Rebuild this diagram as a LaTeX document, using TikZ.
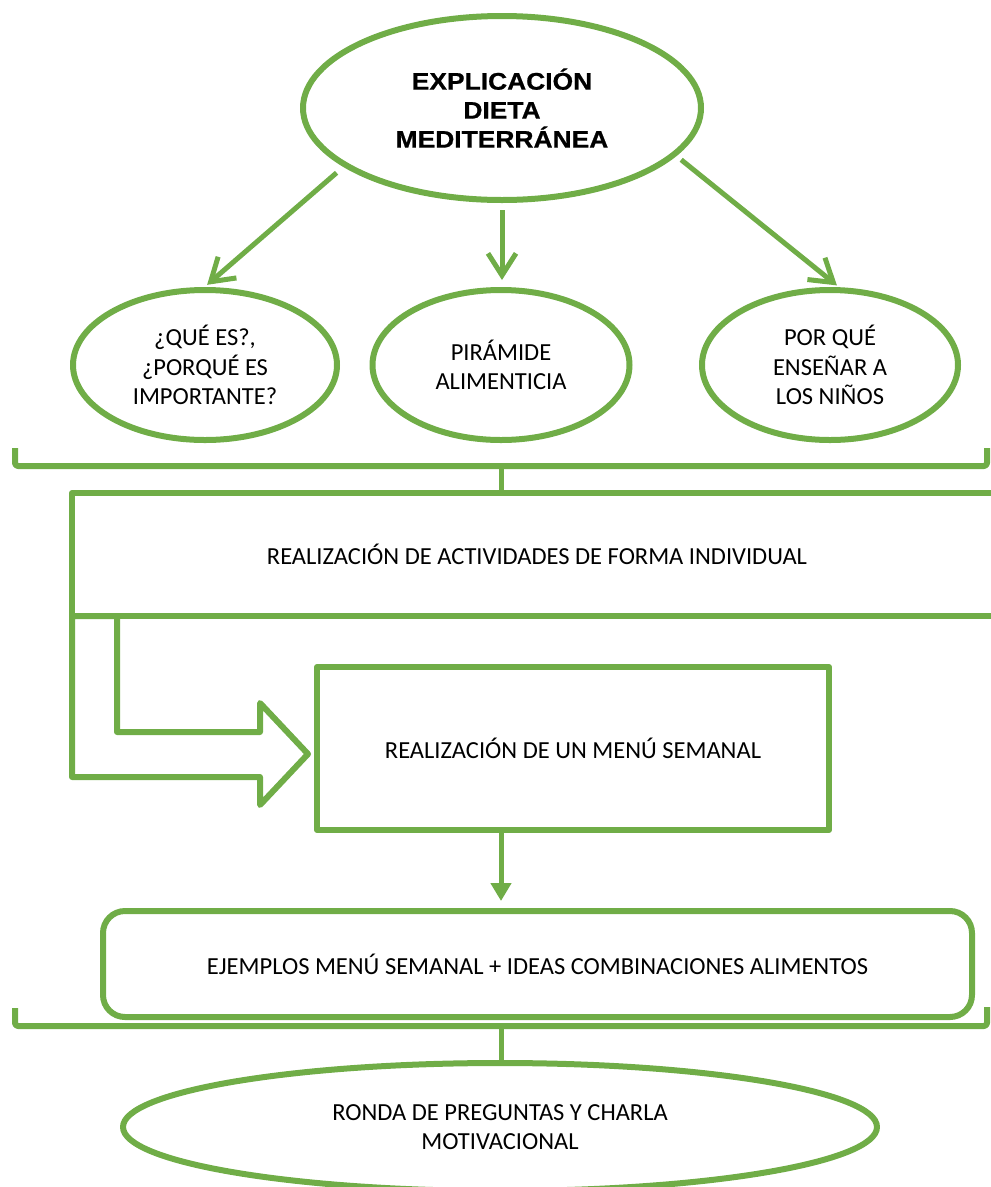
\documentclass[tikz,border=0pt]{standalone}
\usepackage{fontspec}
\setmainfont{Carlito}
\newfontfamily\titlefont[FakeStretch=1.1, BoldFeatures={FakeBold=0.8}]{Liberation Sans}
\usetikzlibrary{arrows.meta,shapes.geometric}
\definecolor{leaf}{HTML}{70AD47}

\begin{document}
\begin{tikzpicture}[x=1pt, y=-1pt, line join=round,
    oval/.style={ellipse, draw=leaf, line width=6pt, inner sep=0pt, outer sep=0pt,
                 align=center, font=\fontsize{24.5}{29.5}\selectfont},
    box/.style={rectangle, draw=leaf, line width=6pt, inner sep=0pt, outer sep=0pt,
                align=center, font=\fontsize{24.5}{29.5}\selectfont},
    link/.style={draw=leaf, line width=5pt},
    arr/.style={link, -{Straight Barb[length=22pt, width=28pt]}},
    down arr/.style={link, -{Triangle[length=18pt, width=20pt]}, color=leaf},
    brace/.style={draw=leaf, line width=6pt, rounded corners=3pt}]

    \useasboundingbox (0,0) rectangle (991,1187);
    \clip (0,0) rectangle (991,1187);

    \node[oval, minimum width=398pt, minimum height=184pt,
          font=\titlefont\bfseries\fontsize{24}{29}\selectfont] (diet) at (502,108)
          {EXPLICACIÓN\\DIETA\\MEDITERRÁNEA};
    \node[oval, minimum width=264pt, minimum height=150pt] (what)    at (205,365) {¿QUÉ ES?,\\¿PORQUÉ ES\\IMPORTANTE?};
    \node[oval, minimum width=257pt, minimum height=150pt] (pyramid) at (501,365) {PIRÁMIDE\\ALIMENTICIA};
    \node[oval, minimum width=256pt, minimum height=150pt] (why)     at (830,365) {POR QUÉ\\ENSEÑAR A\\LOS NIÑOS};

    \node[box, minimum width=930pt, minimum height=123pt] (solo) at (537,554.5)
          {REALIZACIÓN DE ACTIVIDADES DE FORMA INDIVIDUAL};
    \node[box, minimum width=512pt, minimum height=163pt] (menu) at (573,748.5)
          {REALIZACIÓN DE UN MENÚ SEMANAL};
    \node[box, rounded corners=22pt, minimum width=869pt, minimum height=106pt] (samples) at (537.5,964)
          {EJEMPLOS MENÚ SEMANAL + IDEAS COMBINACIONES ALIMENTOS};
    \node[oval, minimum width=754pt, minimum height=128pt] (talk) at (500,1127)
          {RONDA DE PREGUNTAS Y CHARLA\\MOTIVACIONAL};

    \coordinate (b1) at (501,466);
    \coordinate (b2) at (501,1026);

    % arrows out of the title
    \draw[arr, shorten <=12pt, shorten >=8pt] (diet.200) -- (what.93);
    \draw[arr, shorten <=10pt, shorten >=10pt] (diet.south) -- (diet.south |- pyramid.north);
    \draw[arr, shorten <=9pt, shorten >=8pt] (diet.345) -- (why.80);

    % brackets
    \draw[brace] (15,448) -- (15,466) -- (987,466) -- (987,448);
    \draw[link] (b1) -- (solo.north -| b1);
    \draw[brace] (15,1008) -- (15,1026) -- (987,1026) -- (987,1007);
    \draw[link] (b2) -- (talk.north -| b2);

    % block arrow
    \draw[brace, rounded corners=0pt] (solo.south west) -- ++(45,0) -- ++(0,116) -- ++(143,0)
          -- ++(0,-29) -- ++(48,51) -- ++(-48,51) -- ++(0,-28) -- ++(-188,0) -- cycle;

    \draw[down arr, shorten >=10pt] (menu.south -| b1) -- (samples.north -| b1);
  \end{tikzpicture}
\end{document}
